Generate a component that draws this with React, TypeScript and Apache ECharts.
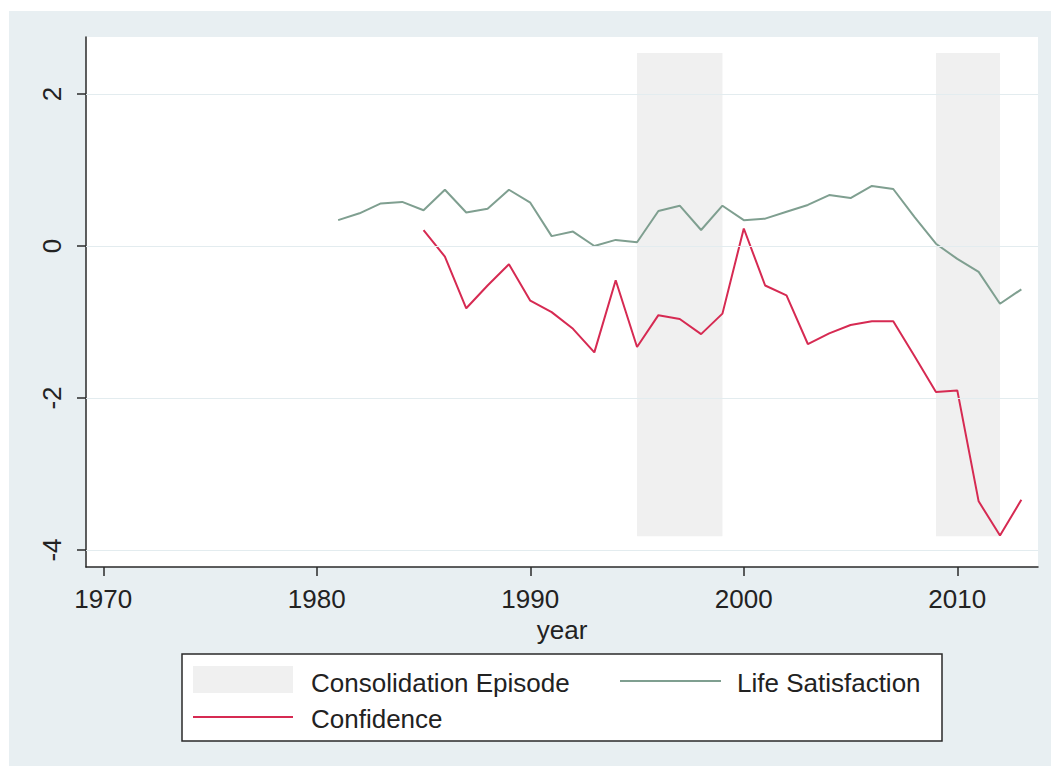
import React, { useEffect, useRef } from "react";
import * as echarts from "echarts";

const lifeYears = [1981, 1982, 1983, 1984, 1985, 1986, 1987, 1988, 1989, 1990, 1991, 1992, 1993, 1994, 1995, 1996, 1997, 1998, 1999, 2000, 2001, 2002, 2003, 2004, 2005, 2006, 2007, 2008, 2009, 2010, 2011, 2012, 2013];
const lifeSatisfaction = [0.34, 0.43, 0.56, 0.58, 0.47, 0.74, 0.44, 0.49, 0.74, 0.57, 0.13, 0.19, 0.0, 0.08, 0.05, 0.46, 0.53, 0.21, 0.53, 0.34, 0.36, 0.45, 0.54, 0.67, 0.63, 0.79, 0.75, 0.38, 0.03, -0.17, -0.34, -0.76, -0.57];

const confYears = [1985, 1986, 1987, 1988, 1989, 1990, 1991, 1992, 1993, 1994, 1995, 1996, 1997, 1998, 1999, 2000, 2001, 2002, 2003, 2004, 2005, 2006, 2007, 2008, 2009, 2010, 2011, 2012, 2013];
const confidence = [0.21, -0.14, -0.82, -0.52, -0.24, -0.72, -0.87, -1.09, -1.40, -0.45, -1.33, -0.91, -0.96, -1.16, -0.89, 0.23, -0.52, -0.65, -1.29, -1.15, -1.04, -0.99, -0.99, -1.45, -1.92, -1.90, -3.36, -3.81, -3.34];

const episodeStarts = [1995, 2009];
const episodeEnds = [1999, 2012];
const episodeTop = 2.54;
const episodeBottom = -3.82;

const xTicks = [1970, 1980, 1990, 2000, 2010];
const yTicks = [-4, -2, 0, 2];

const legendLabels = ["Consolidation Episode", "Life Satisfaction", "Confidence"];

const FONT = "'Liberation Sans', Arial, sans-serif";
const GREEN = "#7f9f90";
const RED = "#d62a52";
const BAND = "#f0f0f0";
const BG = "#e8eff2";
const GRID = "#e3ecef";
const AXIS = "#2a2a2a";
const TEXT = "#222222";

export default function App() {
  const ref = useRef<HTMLDivElement>(null);

  useEffect(() => {
    if (!ref.current) return;
    const chart = echarts.init(ref.current, undefined, { renderer: "svg" });
    const option: any = {
      animation: false,
      backgroundColor: "#ffffff",
      textStyle: { fontFamily: FONT },
      graphic: [
        {
          type: "rect",
          z: -100,
          silent: true,
          shape: { x: 9, y: 11, width: 1042, height: 755 },
          style: { fill: BG },
        },
        {
          type: "rect",
          z: 100,
          silent: true,
          shape: { x: 182, y: 654, width: 760, height: 87 },
          style: { fill: "#ffffff", stroke: AXIS, lineWidth: 1.5 },
        },
        {
          type: "rect",
          z: 101,
          silent: true,
          shape: { x: 193, y: 666, width: 100, height: 27 },
          style: { fill: BAND },
        },
        {
          type: "text",
          z: 101,
          x: 311,
          y: 683,
          style: { text: legendLabels[0], fontSize: 26, fontFamily: FONT, fill: TEXT, align: "left", verticalAlign: "middle" },
        },
        {
          type: "line",
          z: 101,
          silent: true,
          shape: { x1: 620, y1: 681, x2: 721, y2: 681 },
          style: { stroke: GREEN, lineWidth: 2 },
        },
        {
          type: "text",
          z: 101,
          x: 737,
          y: 683,
          style: { text: legendLabels[1], fontSize: 26, fontFamily: FONT, fill: TEXT, align: "left", verticalAlign: "middle" },
        },
        {
          type: "line",
          z: 101,
          silent: true,
          shape: { x1: 193, y1: 717, x2: 293, y2: 717 },
          style: { stroke: RED, lineWidth: 2 },
        },
        {
          type: "text",
          z: 101,
          x: 311,
          y: 719,
          style: { text: legendLabels[2], fontSize: 26, fontFamily: FONT, fill: TEXT, align: "left", verticalAlign: "middle" },
        },
      ],
      grid: {
        left: 86,
        right: 13,
        top: 37,
        bottom: 202,
        show: true,
        backgroundColor: "#ffffff",
        borderWidth: 0,
      },
      xAxis: {
        type: "value",
        min: 1969.19,
        max: 2013.78,
        name: "year",
        nameLocation: "middle",
        nameGap: 41,
        nameTextStyle: { fontSize: 26, color: TEXT, fontFamily: FONT },
        axisLine: { show: true, onZero: false, lineStyle: { color: AXIS, width: 1.5 } },
        axisTick: { show: true, length: 9, customValues: xTicks, lineStyle: { color: AXIS, width: 1.5 } },
        axisLabel: {
          customValues: xTicks,
          fontSize: 26,
          margin: 19,
          color: TEXT,
          fontFamily: FONT,
          formatter: (v: number) => String(Math.round(v)),
        },
        splitLine: { show: false },
      },
      yAxis: {
        type: "value",
        min: -4.224,
        max: 2.75,
        axisLine: { show: true, onZero: false, lineStyle: { color: AXIS, width: 1.5 } },
        axisTick: { show: true, length: 9, customValues: yTicks, lineStyle: { color: AXIS, width: 1.5 } },
        axisLabel: {
          customValues: yTicks,
          rotate: 90,
          fontSize: 26,
          margin: 21,
          color: TEXT,
          fontFamily: FONT,
          formatter: (v: number) => String(Math.round(v)),
        },
        splitLine: { show: false },
      },
      series: [
        {
          type: "line",
          data: [],
          z: 1,
          silent: true,
          markLine: {
            silent: true,
            symbol: "none",
            label: { show: false },
            lineStyle: { color: GRID, width: 1, type: "solid" },
            data: yTicks.map((v) => ({ yAxis: v })),
          },
        },
        {
          type: "line",
          data: [],
          z: 2,
          silent: true,
          markArea: {
            silent: true,
            itemStyle: { color: BAND },
            data: episodeStarts.map((s, i) => [
              { xAxis: s, yAxis: episodeTop },
              { xAxis: episodeEnds[i], yAxis: episodeBottom },
            ]),
          },
        },
        {
          type: "line",
          name: legendLabels[1],
          z: 3,
          data: lifeYears.map((y, i) => [y, lifeSatisfaction[i]]),
          showSymbol: false,
          symbol: "none",
          lineStyle: { color: GREEN, width: 2 },
          itemStyle: { color: GREEN },
        },
        {
          type: "line",
          name: legendLabels[2],
          z: 4,
          data: confYears.map((y, i) => [y, confidence[i]]),
          showSymbol: false,
          symbol: "none",
          lineStyle: { color: RED, width: 2 },
          itemStyle: { color: RED },
        },
      ],
    };
    chart.setOption(option);
    return () => chart.dispose();
  }, []);

  return (
    <div
      ref={ref}
      style={{ position: "fixed", left: 0, top: 0, width: 1051, height: 769 }}
    />
  );
}
